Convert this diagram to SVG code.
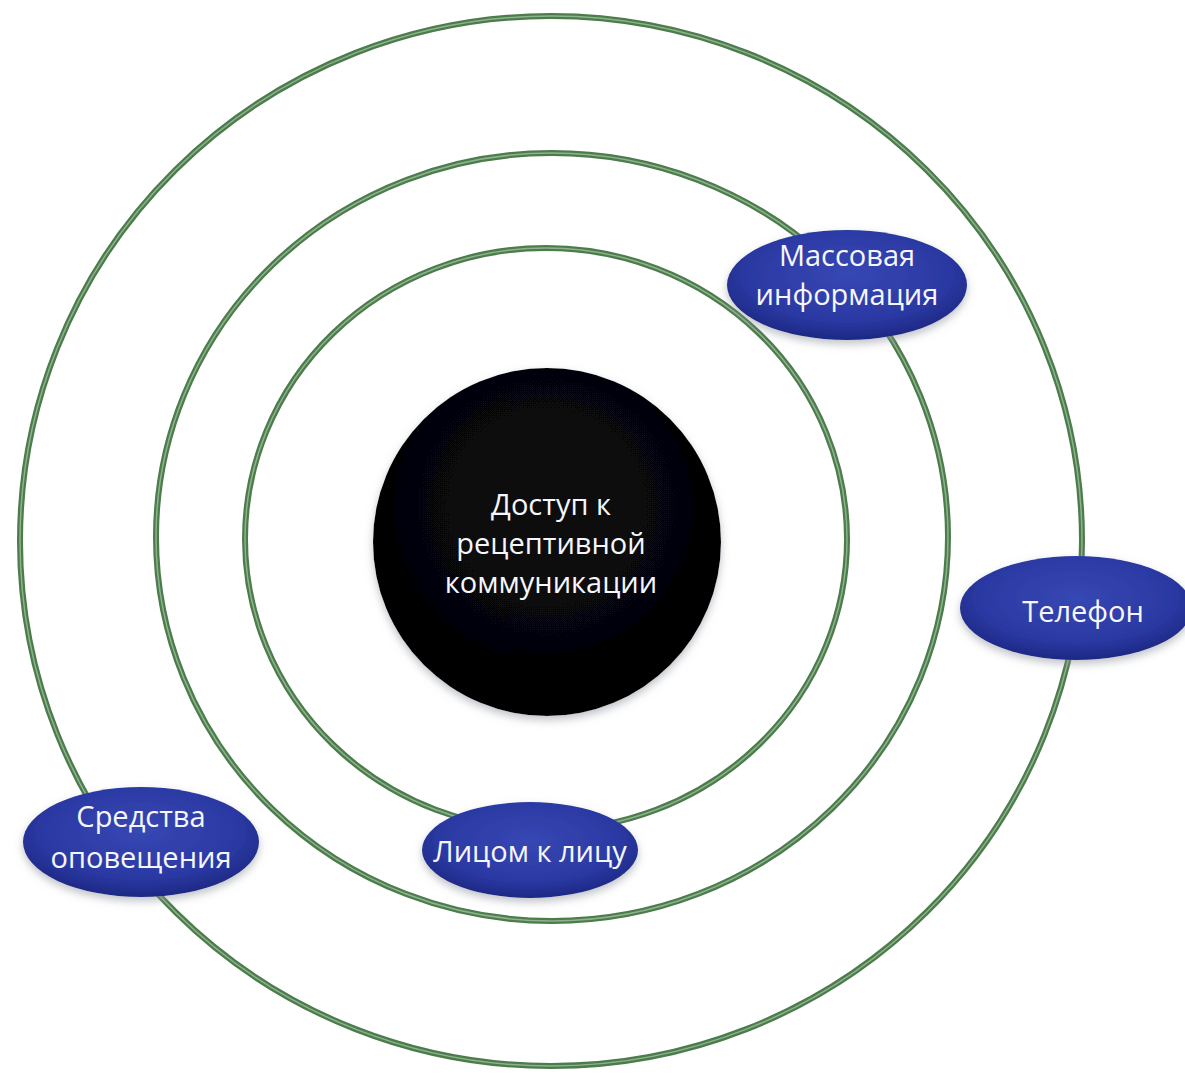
<svg xmlns="http://www.w3.org/2000/svg" width="1185" height="1074" viewBox="0 0 1185 1074">
<defs>
<radialGradient id="blueFill" cx="50%" cy="40%" r="60%">
<stop offset="0%" stop-color="#3747b3"/>
<stop offset="70%" stop-color="#2b39a3"/>
<stop offset="100%" stop-color="#1d2884"/>
</radialGradient>
<radialGradient id="blackFill" cx="50%" cy="40%" r="55%">
<stop offset="0%" stop-color="#0a0a0c"/>
<stop offset="85%" stop-color="#050506"/>
<stop offset="100%" stop-color="#000000"/>
</radialGradient>
<filter id="shadow" x="-20%" y="-20%" width="140%" height="150%">
<feGaussianBlur in="SourceAlpha" stdDeviation="4"/>
<feOffset dy="4" result="b"/>
<feFlood flood-color="#8a8f99" flood-opacity="0.55"/>
<feComposite in2="b" operator="in"/>
<feMerge><feMergeNode/><feMergeNode in="SourceGraphic"/></feMerge>
</filter>
</defs>
<style>
.ring{fill:none;stroke:#4c7b4c;stroke-width:6}
.ringhi{fill:none;stroke:#8db38d;stroke-width:1.5}
.oval{fill:url(#blueFill);filter:url(#shadow)}
.lbl{font-family:"Open Sans","Noto Sans","DejaVu Sans",sans-serif;font-size:29px;fill:#f6f6ff;text-anchor:middle}
</style>
<rect width="1185" height="1074" fill="#ffffff"/>
<g id="rings">
<ellipse class="ring" cx="551" cy="541" rx="531" ry="525"/>
<ellipse class="ringhi" cx="551" cy="541" rx="531" ry="525"/>
<ellipse class="ring" cx="552" cy="537" rx="396" ry="384"/>
<ellipse class="ringhi" cx="552" cy="537" rx="396" ry="384"/>
<ellipse class="ring" cx="546" cy="539" rx="301" ry="291"/>
<ellipse class="ringhi" cx="546" cy="539" rx="301" ry="291"/>
</g>
<g id="center">
<circle cx="547" cy="542" r="174" fill="url(#blackFill)" filter="url(#shadow)"/>
<text class="lbl" x="551" y="515">Доступ к</text>
<text class="lbl" x="551" y="554">рецептивной</text>
<text class="lbl" x="551" y="593">коммуникации</text>
</g>
<g id="mass">
<ellipse class="oval" cx="847" cy="285" rx="120" ry="55"/>
<text class="lbl" x="847" y="266">Массовая</text>
<text class="lbl" x="847" y="305">информация</text>
</g>
<g id="phone">
<ellipse class="oval" cx="1076" cy="608" rx="116" ry="52"/>
<text class="lbl" x="1083" y="622">Телефон</text>
</g>
<g id="face">
<ellipse class="oval" cx="530" cy="850" rx="108" ry="48"/>
<text class="lbl" x="530" y="862">Лицом к лицу</text>
</g>
<g id="alert">
<ellipse class="oval" cx="141" cy="842" rx="118" ry="55"/>
<text class="lbl" x="141" y="827">Средства</text>
<text class="lbl" x="141" y="868">оповещения</text>
</g>
</svg>
